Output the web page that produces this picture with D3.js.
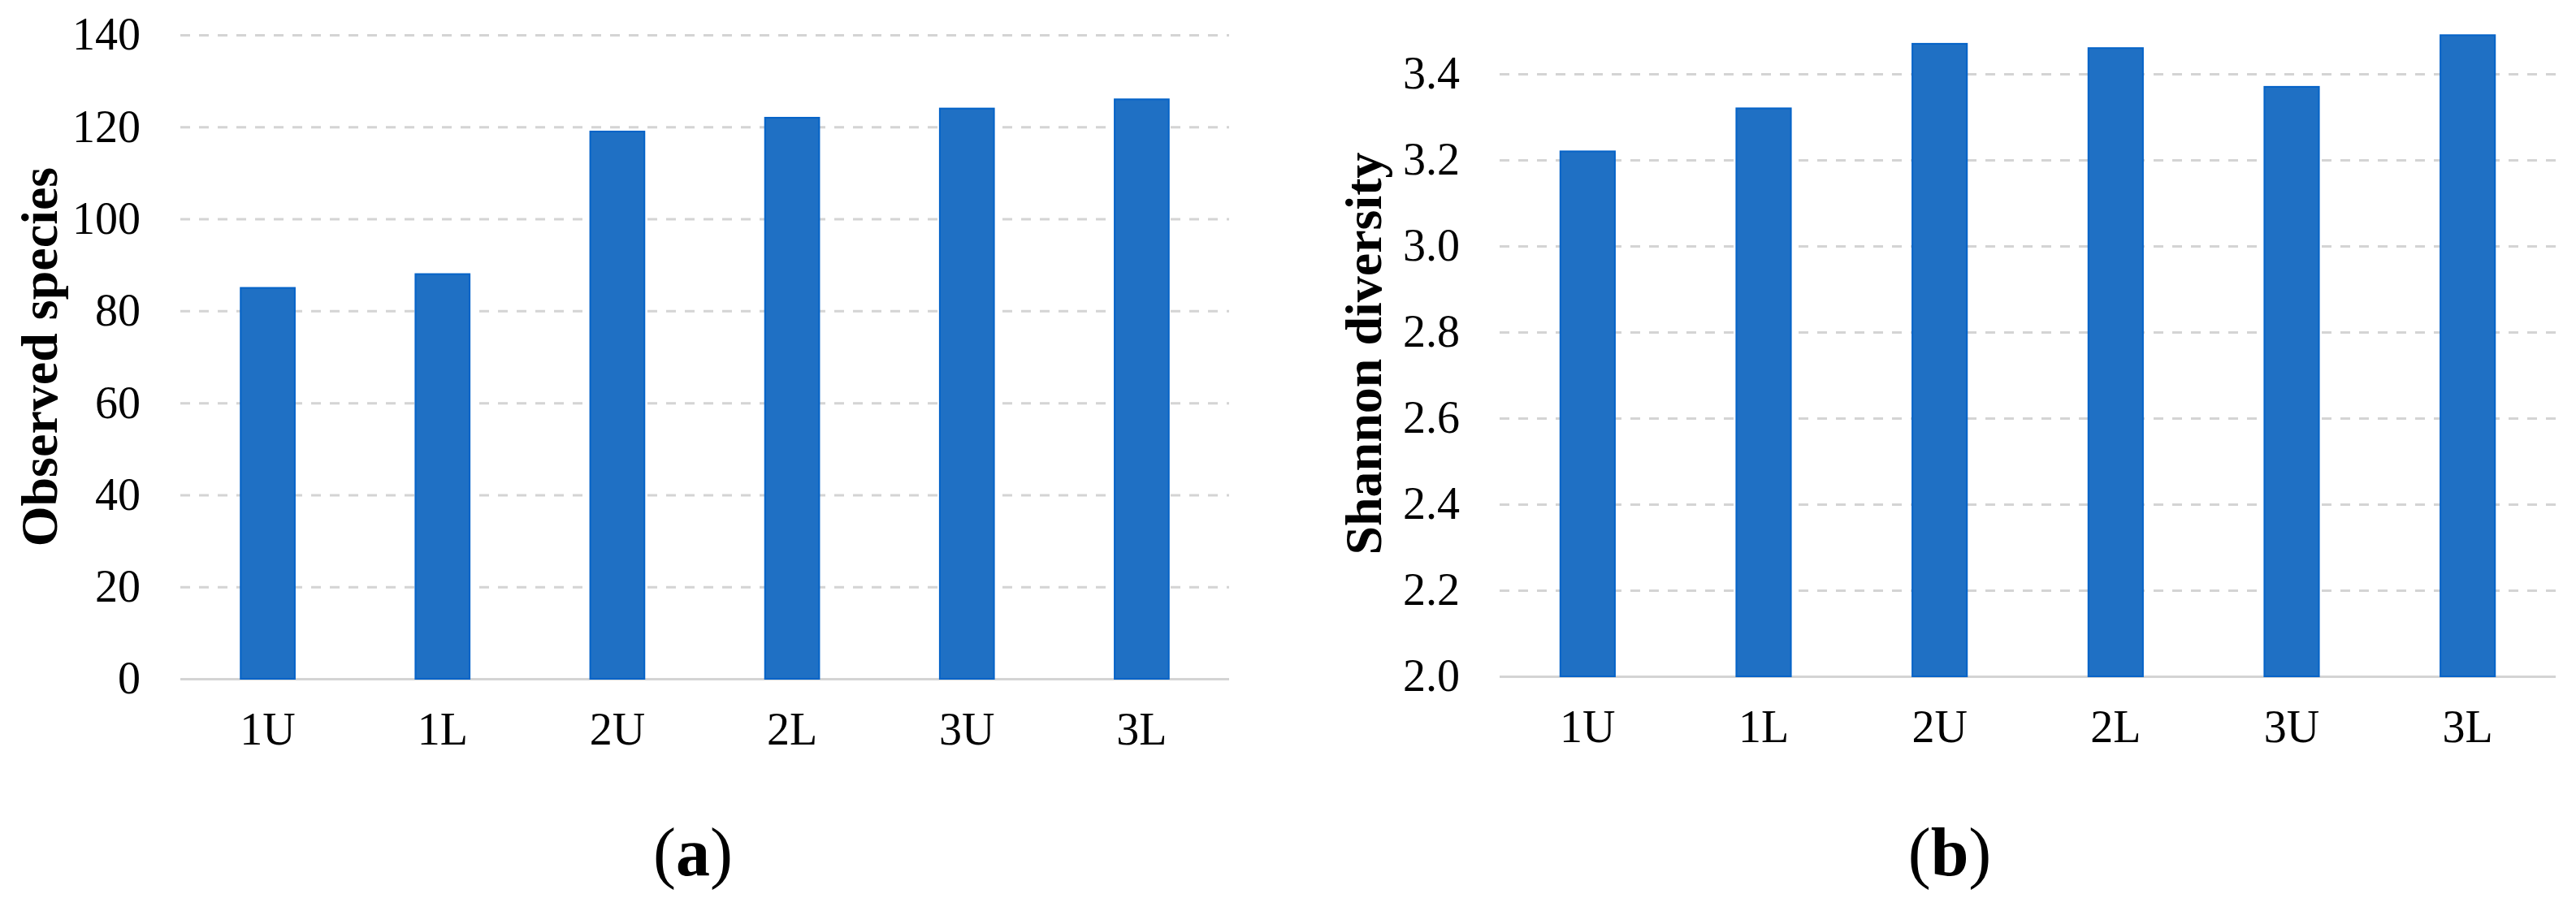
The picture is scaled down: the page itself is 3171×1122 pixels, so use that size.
<!DOCTYPE html>
<html>
<head>
<meta charset="utf-8">
<script src="https://cdn.jsdelivr.net/npm/d3@7"></script>
<style>
  body { margin: 0; background: #fff; }
  text { font-family: "Liberation Serif", "Times New Roman", serif; }
</style>
</head>
<body>
<svg id="fig" width="3171" height="1122"></svg>
<script>
var categories = ['1U', '1L', '2U', '2L', '3U', '3L'];
var observedSpecies = [85, 88, 119, 122, 124, 126];
var shannonDiversity = [3.22, 3.32, 3.47, 3.46, 3.37, 3.49];
var speciesTicks = [0, 20, 40, 60, 80, 100, 120, 140];
var shannonTicks = [2.0, 2.2, 2.4, 2.6, 2.8, 3.0, 3.2, 3.4];

var barFill = '#1f70c4';
var barEdge = '#0563c8';
var gridColor = '#d4d4d4';

var svg = d3.select('#fig');

drawPanel({
    values: observedSpecies,
    ticks: speciesTicks,
    domain: [0, 140],
    fmt: d3.format('d'),
    left: 222, right: 1513, top: 43, bottom: 836,
    title: 'Observed species', titleX: 70,
    label: 'a', labelX: 853
});

drawPanel({
    values: shannonDiversity,
    ticks: shannonTicks,
    domain: [2.0, 3.5],
    fmt: d3.format('.1f'),
    left: 1846, right: 3146, top: 38, bottom: 833,
    title: 'Shannon diversity', titleX: 1700,
    label: 'b', labelX: 2400
});

function drawPanel(cfg){
    var x = d3.scaleBand()
        .domain(categories)
        .range([cfg.left, cfg.right])
        .paddingInner(0.69)
        .paddingOuter(0.345);
    var y = d3.scaleLinear()
        .domain(cfg.domain)
        .range([cfg.bottom, cfg.top]);

    var g = svg.append('g');

    // gridlines + y labels
    var yAxis = g.append('g')
        .attr('transform', 'translate(' + cfg.left + ',0)')
        .call(d3.axisLeft(y)
            .tickValues(cfg.ticks)
            .tickSize(-(cfg.right - cfg.left))
            .tickPadding(49)
            .tickFormat(cfg.fmt));
    yAxis.select('.domain').remove();
    yAxis.selectAll('.tick line')
        .attr('stroke', gridColor)
        .attr('stroke-width', 3)
        .attr('stroke-dasharray', (d, i) => i == 0 ? null : '12,11');
    yAxis.selectAll('.tick text')
        .attr('fill', '#000')
        .style('font-size', '56px');

    // bars
    g.selectAll('.bar')
        .data(cfg.values)
        .join('rect')
        .attr('class', 'bar')
        .attr('x', (d, i) => x(categories[i]))
        .attr('y', d => y(d))
        .attr('width', x.bandwidth())
        .attr('height', d => cfg.bottom - y(d))
        .attr('fill', barFill)
        .attr('stroke', barEdge)
        .attr('stroke-width', 2);

    // category axis
    var xAxis = g.append('g')
        .attr('transform', 'translate(0,' + cfg.bottom + ')')
        .call(d3.axisBottom(x).tickSize(0).tickPadding(41));
    xAxis.select('.domain').remove();
    xAxis.selectAll('.tick text')
        .attr('fill', '#000')
        .style('font-size', '56px');

    // axis title
    g.append('text')
        .attr('transform', 'translate(' + cfg.titleX + ',' + ((cfg.top + cfg.bottom) / 2) + ') rotate(-90)')
        .attr('text-anchor', 'middle')
        .style('font-size', '64px')
        .style('font-weight', 'bold')
        .text(cfg.title);

    // panel label
    var lab = g.append('text')
        .attr('x', cfg.labelX)
        .attr('y', 1078)
        .attr('text-anchor', 'middle')
        .style('font-size', '84px');
    lab.append('tspan').text('(');
    lab.append('tspan').style('font-weight', 'bold').text(cfg.label);
    lab.append('tspan').text(')');
}
</script>
</body>
</html>
